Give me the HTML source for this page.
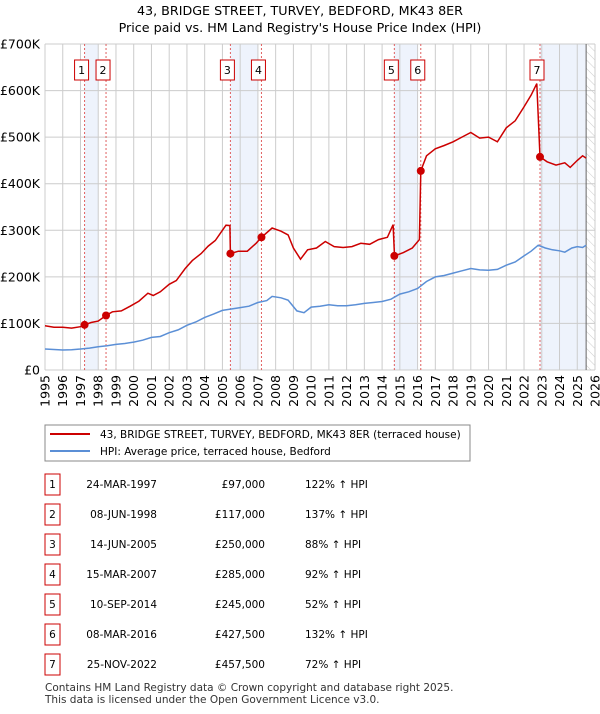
<!DOCTYPE html>
<html><head><meta charset="utf-8"><style>
body{margin:0;background:#fff;font-family:"DejaVu Sans","Liberation Sans",sans-serif;}
svg text{font-family:"DejaVu Sans","Liberation Sans",sans-serif;}
</style></head><body>
<svg id="c" width="600" height="710" xmlns="http://www.w3.org/2000/svg">
<defs><pattern id="hatch" width="6" height="6" patternUnits="userSpaceOnUse" patternTransform="rotate(-45)"><line x1="0" y1="0" x2="0" y2="6" stroke="#ccc" stroke-width="1"/></pattern></defs>
<text x="300" y="15" text-anchor="middle" font-size="12.7" fill="#000">43, BRIDGE STREET, TURVEY, BEDFORD, MK43 8ER</text>
<text x="300" y="32" text-anchor="middle" font-size="12.7" fill="#000">Price paid vs. HM Land Registry's House Price Index (HPI)</text>
<g id="plot"></g>
<rect x="45" y="425" width="425" height="36" fill="#fff" stroke="#888"/>
<line x1="50" y1="434" x2="90" y2="434" stroke="#cc0000" stroke-width="2"/>
<text x="100" y="438" font-size="10.5">43, BRIDGE STREET, TURVEY, BEDFORD, MK43 8ER (terraced house)</text>
<line x1="50" y1="451" x2="90" y2="451" stroke="#5b8fd6" stroke-width="2"/>
<text x="100" y="455" font-size="10.5">HPI: Average price, terraced house, Bedford</text>
<g id="tbl"></g>
<text x="45" y="691" font-size="10.5" fill="#333">Contains HM Land Registry data © Crown copyright and database right 2025.</text>
<text x="45" y="703" font-size="10.5" fill="#333">This data is licensed under the Open Government Licence v3.0.</text>
</svg>
<script>
const yTicks=[0,100000,200000,300000,400000,500000,600000,700000];
const yTickLabels=["£0","£100K","£200K","£300K","£400K","£500K","£600K","£700K"];
const years=[1995,1996,1997,1998,1999,2000,2001,2002,2003,2004,2005,2006,2007,2008,2009,2010,2011,2012,2013,2014,2015,2016,2017,2018,2019,2020,2021,2022,2023,2024,2025,2026];
const hpiT=[1995,1995.5,1996,1996.5,1997,1997.5,1998,1998.5,1999,1999.5,2000,2000.5,2001,2001.5,2002,2002.5,2003,2003.5,2004,2004.5,2005,2005.5,2006,2006.5,2007,2007.5,2007.8,2008.3,2008.7,2009.2,2009.6,2010,2010.5,2011,2011.5,2012,2012.5,2013,2013.5,2014,2014.5,2015,2015.5,2016,2016.5,2017,2017.5,2018,2018.5,2019,2019.5,2020,2020.5,2021,2021.5,2022,2022.4,2022.8,2023.2,2023.6,2024,2024.3,2024.7,2025,2025.3,2025.5];
const hpiV=[45000,44000,43000,43500,45000,47000,50000,52000,55000,57000,60000,64000,70000,72000,80000,86000,96000,103000,113000,120000,128000,131000,134000,137000,145000,149000,158000,155000,150000,127000,123000,135000,137000,140000,138000,138000,140000,143000,145000,147000,152000,163000,168000,175000,190000,200000,203000,208000,213000,218000,215000,214000,216000,225000,232000,245000,255000,268000,262000,258000,256000,253000,262000,265000,263000,268000];
const redT=[1995,1995.5,1996,1996.5,1997,1997.23,1997.6,1998,1998.44,1998.8,1999.3,1999.8,2000.3,2000.8,2001.1,2001.5,2002,2002.4,2002.9,2003.3,2003.8,2004.2,2004.6,2005,2005.2,2005.42,2005.45,2005.9,2006.4,2006.9,2007.2,2007.8,2008.3,2008.7,2009,2009.4,2009.8,2010.3,2010.8,2011.3,2011.8,2012.3,2012.8,2013.3,2013.8,2014.3,2014.62,2014.7,2015.2,2015.7,2016.1,2016.18,2016.5,2017,2017.5,2018,2018.5,2019,2019.5,2020,2020.5,2021,2021.5,2022,2022.4,2022.72,2022.9,2023.3,2023.8,2024.3,2024.6,2025,2025.3,2025.5];
const redV=[95000,92000,92000,90000,93000,97000,102000,105000,117000,125000,127000,137000,148000,165000,160000,168000,184000,192000,218000,235000,250000,266000,278000,300000,311000,310000,250000,255000,255000,272000,285000,305000,298000,290000,262000,238000,258000,262000,276000,265000,263000,265000,272000,270000,280000,285000,312000,245000,252000,262000,280000,427500,460000,475000,482000,490000,500000,510000,498000,500000,490000,520000,535000,565000,590000,615000,457500,447000,440000,445000,435000,450000,460000,455000];
const saleT=[1997.23,1998.44,2005.45,2007.2,2014.69,2016.18,2022.9];
const saleV=[97000,117000,250000,285000,245000,427500,457500];
const saleLabels=["1","2","3","4","5","6","7"];
const saleDates=["24-MAR-1997","08-JUN-1998","14-JUN-2005","15-MAR-2007","10-SEP-2014","08-MAR-2016","25-NOV-2022"];
const salePrices=["£97,000","£117,000","£250,000","£285,000","£245,000","£427,500","£457,500"];
const saleHpi=["122% ↑ HPI","137% ↑ HPI","88% ↑ HPI","92% ↑ HPI","52% ↑ HPI","132% ↑ HPI","72% ↑ HPI"];

const X0=45,X1=595,Y0=370,Y1=44,T0=1995,T1=2026,VMAX=700000;
const xs=t=>X0+(t-T0)/(T1-T0)*(X1-X0);
const ys=v=>Y0-v/VMAX*(Y0-Y1);
const NS="http://www.w3.org/2000/svg";
function mk(tag,attrs,parent,txt){const e=document.createElementNS(NS,tag);for(const k in attrs)e.setAttribute(k,attrs[k]);if(txt!==undefined)e.textContent=txt;parent.appendChild(e);return e;}
const g=document.getElementById('plot');
for(let i=0;i<saleT.length;i+=2){
  const end=i+1<saleT.length?Math.floor(saleT[i+1]):2025.5;
  const r=mk('rect',{x:xs(saleT[i]),y:Y1,width:xs(end)-xs(saleT[i]),height:Y0-Y1,fill:'#eef3fc'},g);
  
  
}
const h=mk('rect',{x:xs(2025.5),y:Y1,width:X1-xs(2025.5),height:Y0-Y1,fill:'url(#hatch)'},g);


years.forEach(yr=>{
  const l=mk('line',{x1:xs(yr),x2:xs(yr),y1:Y1,y2:Y0,stroke:'#ccc','stroke-width':1},g);
  
  
  const x=xs(yr);
  const t=mk('text',{x:x+4.5,y:375,'font-size':12.5,'text-anchor':'end',transform:`rotate(-90 ${x+4.5} 375)`},g,String(yr));
  
  
});
yTicks.forEach((v,i)=>{
  const l=mk('line',{x1:X0,x2:X1,y1:ys(v),y2:ys(v),stroke:'#ccc','stroke-width':1},g);
  
  
  const t=mk('text',{x:40,y:ys(v)+4.5,'font-size':12.5,'text-anchor':'end'},g,yTickLabels[i]);
  
  
});
const vl=mk('line',{x1:xs(2025.5),x2:xs(2025.5),y1:Y1,y2:Y0,stroke:'#666','stroke-width':1},g);


saleT.forEach((t,i)=>{
  const l=mk('line',{x1:xs(t),x2:xs(t),y1:Y1,y2:Y0,stroke:'#e06060','stroke-width':1,'stroke-dasharray':'2,2'},g);
  
  
  const b=mk('rect',{x:xs(t)-10,y:60,width:14,height:20,fill:'#fff',stroke:'#cc0000'},g);
  
  
  const tx=mk('text',{x:xs(t)-3,y:74,'font-size':11,'text-anchor':'middle'},g,saleLabels[i]);
  
  
});
const pts=(T,V)=>T.map((t,i)=>xs(t).toFixed(1)+','+ys(V[i]).toFixed(1)).join(' ');
const bl=mk('polyline',{points:pts(hpiT,hpiV),fill:'none',stroke:'#5b8fd6','stroke-width':1.5},g);


const rl=mk('polyline',{points:pts(redT,redV),fill:'none',stroke:'#cc0000','stroke-width':1.5},g);


saleT.forEach((t,i)=>{
  const c=mk('circle',{cx:xs(t),cy:ys(saleV[i]),r:4,fill:'#cc0000'},g);
  
  
});
const tb=document.getElementById('tbl');
saleLabels.forEach((s,i)=>{
  const y=484+i*30;
  const b=mk('rect',{x:45,y:y-10,width:15,height:21,fill:'#fff',stroke:'#cc0000'},tb);
  
  
  let t=mk('text',{x:52.5,y:y+4,'font-size':10.5,'text-anchor':'middle'},tb,s);
  
  
  t=mk('text',{x:157,y:y+4,'font-size':10.5,'text-anchor':'end'},tb,saleDates[i]);
  
  
  t=mk('text',{x:265,y:y+4,'font-size':10.5,'text-anchor':'end'},tb,salePrices[i]);
  
  
  t=mk('text',{x:305,y:y+4,'font-size':10.5},tb,saleHpi[i]);
  
  
});
</script>
</body></html>
